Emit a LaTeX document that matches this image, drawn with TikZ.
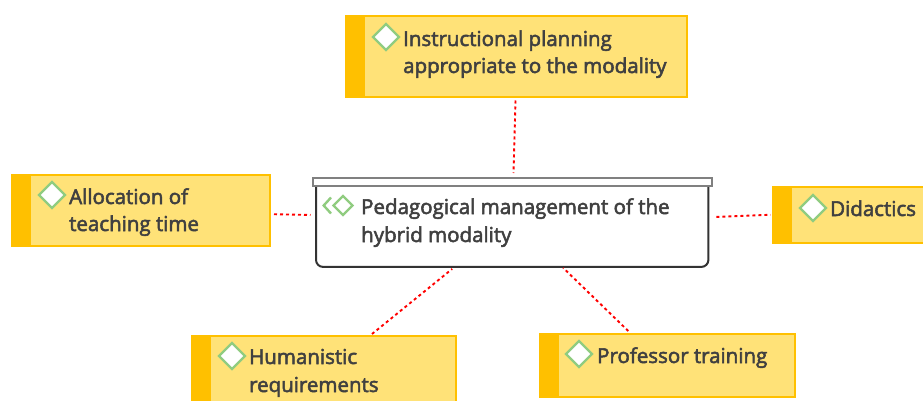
\documentclass[tikz,border=0pt]{standalone}
\usepackage{fontspec}
\setmainfont{Open Sans}[FakeBold=2.6]
\usetikzlibrary{shapes.geometric}
\definecolor{boxfill}{HTML}{FFE278}
\definecolor{boxedge}{HTML}{FFC000}
\definecolor{ink}{HTML}{404040}
\definecolor{leaf}{HTML}{90CC80}
\tikzset{
  x=1pt,y=-1pt,
  yellowbox/.style={draw=boxedge,line width=2pt,fill=boxfill,inner sep=0pt,outer sep=0pt,rectangle,anchor=north west},
  sidebar/.style={fill=boxedge,draw=boxedge,line width=1pt,inner sep=0pt,outer sep=0pt,rectangle,anchor=north west},
  gem/.style={diamond,aspect=1,draw=leaf,line width=2.4pt,fill=white,inner sep=0pt,minimum width=27pt,minimum height=27pt},
  smallgem/.style={gem,minimum width=20pt,minimum height=20pt},
  label/.style={anchor=base west,inner sep=0pt,text=ink,font=\fontsize{20.5}{27}\selectfont,align=left},
  link/.style={draw=red,line width=1.9pt,dash pattern=on 3pt off 3pt},
}
\newcommand{\ybox}[7]{% name x y w h gemx gemy
  \node[yellowbox,minimum width=#4pt,minimum height=#5pt] (#1) at (#2,#3) {};
  \node[sidebar,minimum width=18pt,minimum height=#5pt] (#1bar) at (#2,#3) {};
  \node[gem] (#1gem) at (#6,#7) {};
}
\begin{document}
\begin{tikzpicture}
\useasboundingbox (0,0) rectangle (923,401);
\clip (0,0) rectangle (923,401);
\ybox{plan}{346}{16}{341}{81.5}{386}{37}
\ybox{alloc}{12}{175}{257.5}{70.5}{52}{195}
\ybox{did}{773}{187}{160}{55.5}{813}{208}
\ybox{human}{192}{336}{263.5}{80}{232}{356}
\ybox{prof}{540}{334}{254.5}{62.5}{579}{354}

\node[rectangle,inner sep=0pt,minimum width=392pt,minimum height=89.5pt,anchor=north west] (core) at (316,177) {};
\draw[black!80,line width=2pt,fill=white,rounded corners=7pt] ([yshift=-4pt]core.north west) -- (core.south west) -- (core.south east) -- ([yshift=-4pt]core.north east);
\node[rectangle,draw=black!50,line width=2pt,fill=white,inner sep=0pt,minimum width=399pt,minimum height=7.5pt,anchor=north west] (coretop) at (312,177) {};

\draw[leaf,line width=2.4pt] (331,197.5) -- (323.7,205.5) -- (331,213.5);
\node[smallgem] (coregem) at (343,205.5) {};

\node[label] (t1) at (403,46) {Instructional planning};
\node[label] (t2) at (403,73) {appropriate to the modality};
\node[label] (t3) at (69,204) {Allocation of};
\node[label] (t4) at (69,231) {teaching time};
\node[label] (t5) at (830,216) {Didactics};
\node[label] (t6) at (249,364) {Humanistic};
\node[label] (t7) at (249,392) {requirements};
\node[label] (t8) at (597,363) {Professor training};
\node[label] (t9) at (361,214) {Pedagogical management of the};
\node[label] (t10) at (361,242) {hybrid modality};

\draw[link] ([xshift=-1pt,yshift=-3pt]plan.south) -- ([xshift=1pt,yshift=4pt]coretop.north);
\draw[link] ([xshift=4.5pt,yshift=-4pt]alloc.east) -- ([xshift=-5.5pt,yshift=7pt]core.west);
\draw[link] ([xshift=8pt,yshift=5pt]core.east) -- ([xshift=-2.5pt,yshift=0pt]did.west);
\draw[link] ([xshift=-83.5pt,yshift=2pt]human.north east) -- ([xshift=-60pt,yshift=-2pt]core.south);
\draw[link] ([xshift=-39pt,yshift=3pt]prof.north) -- ([xshift=51pt,yshift=-1pt]core.south);
\end{tikzpicture}
\end{document}
